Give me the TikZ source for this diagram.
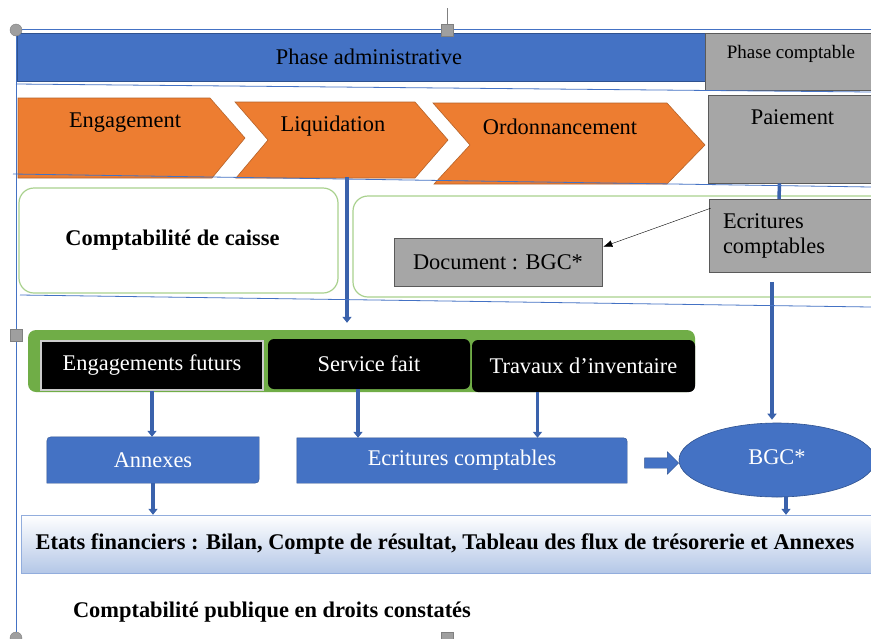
\documentclass[tikz,border=0pt]{standalone}
\usepackage{fontspec}
\setmainfont{Liberation Serif}
\usepackage{tikz}
\usetikzlibrary{shapes.geometric,shapes.arrows,arrows.meta,calc}
\definecolor{bleuadm}{HTML}{4472C4}
\definecolor{bleufonce}{HTML}{2F528F}
\definecolor{bleulien}{HTML}{3A62AC}
\definecolor{bleuclair}{HTML}{B4C7E7}
\definecolor{gris}{HTML}{A6A6A6}
\definecolor{grisfonce}{HTML}{5A5A5A}
\definecolor{orangec}{HTML}{ED7D31}
\definecolor{orangefonce}{HTML}{B5632A}
\definecolor{vert}{HTML}{70AD47}
\definecolor{vertclair}{HTML}{A9D18E}
\tikzset{texte/.style={font=\fontsize{22.4}{27}\selectfont}}
\tikzset{adm/.style={texte, fill=bleuadm, draw=bleufonce, thick, inner sep=0pt}}
\tikzset{grisbox/.style={texte, fill=gris, draw=grisfonce, semithick, inner sep=0pt}}
\tikzset{chevron/.style={fill=orangec, draw=orangefonce, semithick}}
\tikzset{cadre/.style={draw=vertclair, line width=1.2pt, rounded corners=15pt}}
\tikzset{noir/.style={texte, fill=black, text=white, inner sep=0pt, rounded corners=6pt}}
\tikzset{bleubox/.style={texte, text=white, inner sep=0pt}}
\tikzset{lien/.style={draw=bleulien, line width=3.5pt, -{Triangle[length=6pt,width=9pt]}}}
\tikzset{trait/.style={draw=bleuadm, line width=0.8pt}}
\tikzset{poignee/.style={fill=gray!75, draw=gray}}
\begin{document}
\begin{tikzpicture}[x=1pt, y=-1pt]
  \clip (0,0) rectangle (871,638);
  \fill[white] (0,0) rectangle (871,638);

  % bandeau des phases
  \node (admin) at (361,57)[adm, minimum width=688pt, minimum height=48pt]{\hspace{16pt}Phase administrative};
  \node (compta) at (791,61.5)[grisbox, minimum width=172pt, minimum height=57pt,
     label={[name=comptatxt, font=\fontsize{19}{22}\selectfont, yshift=8pt]center:Phase comptable}]{};

  % chevrons de la phase administrative
  \draw[chevron] (18,98) -- (210,98) -- (245,138) -- (212,178) -- (18,178) -- cycle;
  \draw[chevron] (235,102) -- (415,102) -- (448,140) -- (415,178) -- (236,178) -- (268,140) -- cycle;
  \draw[chevron] (433,103) -- (667,103) -- (705,145) -- (667,184) -- (434,184) -- (470,145) -- cycle;
  \node (engag) at (125,123)[texte]{Engagement};
  \node (liquid) at (333,126)[texte]{Liquidation};
  \node (ordo) at (560,127)[texte]{Ordonnancement};
  \coordinate (liqbas) at (347,177);
  \node (paie) at (792.5,139)[grisbox, minimum width=169pt, minimum height=88pt,
     label={[name=paietxt, texte, yshift=22pt]center:Paiement}]{};

  % comptabilite de caisse
  \node (caisse) at (178.5,240.5)[cadre, texte, minimum width=319pt, minimum height=105pt]{\hspace{-12pt}\bfseries Comptabilit\'e de caisse};
  \node (encadre) at (621.5,246.5)[cadre, minimum width=537pt, minimum height=101pt]{};
  \node (doc) at (498,262)[grisbox, minimum width=208pt, minimum height=48pt]{Document : BGC*};
  \node (ecrit) at (793,236)[grisbox, minimum width=168pt, minimum height=73pt, text width=140pt, align=left]{\raisebox{-2pt}{Ecritures}\\comptables};
  \draw[-{Latex[length=9pt,width=7pt]}, thin] ($(ecrit.north west)+(2,9)$) -- ($(doc.north east)+(1,9)$);

  % droits constates
  \node (barre) at (361.5,361)[fill=vert, rounded corners=8pt, minimum width=667pt, minimum height=62pt]{};
  \node (futurs) at (152,365.5)[noir, rounded corners=0pt, draw=gray!40, line width=1.5pt, minimum width=222pt, minimum height=49pt]{\raisebox{3pt}{Engagements futurs}};
  \node (service) at (369,364)[noir, minimum width=202pt, minimum height=50pt]{Service fait};
  \node (travaux) at (583.5,366)[noir, minimum width=223pt, minimum height=52pt]{Travaux d’inventaire};

  \node (annexes) at (153,460)[bleubox, minimum width=212pt, minimum height=46pt]{};
  \filldraw[fill=bleuadm, draw=bleufonce] (annexes.south west) -- ($(annexes.north west)+(0,9)$)
     .. controls (annexes.north west) .. ($(annexes.north west)+(9,0)$) -- (annexes.north east)
     -- ($(annexes.south east)+(0,-9)$) .. controls (annexes.south east) .. ($(annexes.south east)+(-9,0)$) -- cycle;
  \node (annextxt) at (annexes) [bleubox]{Annexes};
  \node (ecrbleu) at (462,460.5)[bleubox, minimum width=330pt, minimum height=45pt]{};
  \filldraw[fill=bleuadm, draw=bleufonce] (ecrbleu.south west) -- (ecrbleu.north west) -- ($(ecrbleu.north east)+(-8,0)$)
     .. controls (ecrbleu.north east) .. ($(ecrbleu.north east)+(0,8)$) -- (ecrbleu.south east) -- cycle;
  \node (ecrbtxt) at (ecrbleu) [bleubox]{Ecritures comptables};
  \node (fleche) at (659,463)[single arrow, fill=bleuadm, draw=bleufonce, inner sep=5pt,
     single arrow head extend=6pt, minimum height=34pt]{};
  \node (bgc) at (777,460)[ellipse, fill=bleuadm, draw=bleufonce, semithick, bleubox, minimum width=196pt, minimum height=74pt]{\raisebox{5pt}{BGC*}};

  \node (etats) at (450.5,544)[draw=bleuclair!70!bleuadm, top color=white, bottom color=bleuclair,
     minimum width=859pt, minimum height=58pt, texte, inner sep=0pt]{\hspace*{-11pt}\raisebox{4pt}{\bfseries Etats financiers : Bilan, Compte de r\'esultat, Tableau des flux de tr\'esorerie et Annexes}};
  \node (publique) at (272,612)[texte]{\bfseries Comptabilit\'e publique en droits constat\'es};

  % liens
  \draw[lien, shorten >=7pt] (liqbas) -- (liqbas |- barre.north);
  \draw[lien, -] ($(paie.south)+(-13,0)$) -- ($(ecrit.north)+(-14,0)$);
  \coordinate (e1) at ($(ecrit.south)+(-21,9)$);
  \draw[lien, shorten >=3pt] (e1) -- (e1 |- bgc.north);
  \draw[lien] (futurs.south) -- (futurs.south |- annexes.north);
  \coordinate (s1) at ($(service.south)+(-11,0)$);
  \draw[lien] (s1) -- (s1 |- ecrbleu.north);
  \coordinate (t1) at ($(travaux.south)+(-46,0)$);
  \draw[lien] (t1) -- (t1 |- ecrbleu.north);
  \draw[lien] (annexes.south) -- (annexes.south |- etats.north);
  \coordinate (b1) at ($(bgc.south)+(9,-1)$);
  \draw[lien] (b1) -- (b1 |- etats.north);

  % traits du tableau et poignees
  \draw[trait] (16,29) -- (871,29);
  \draw[trait] (16,84) -- (871,92);
  \draw[trait] (13,174) -- (871,187);
  \draw[trait] (20,295) -- (871,307);
  \draw[trait] (16,29) -- (16,638);
  \draw[gray] (447,8) -- (447,24);
  \filldraw[poignee] (16,30) circle (6pt);
  \filldraw[poignee] (441,24) rectangle (453,36);
  \filldraw[poignee] (10,329) rectangle (22,341);
  \filldraw[poignee] (16,638) circle (6pt);
  \filldraw[poignee] (441,632) rectangle (453,644);
\end{tikzpicture}
\end{document}
